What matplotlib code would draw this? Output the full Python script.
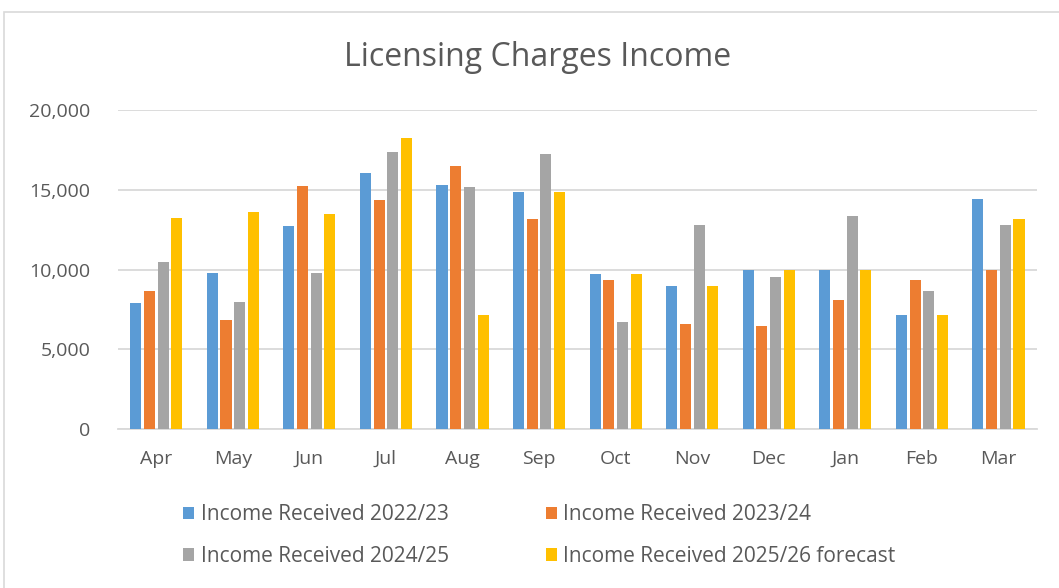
import numpy as np
import matplotlib.pyplot as plt
from matplotlib.patches import Rectangle

# data
months = ['Apr', 'May', 'Jun', 'Jul', 'Aug', 'Sep', 'Oct', 'Nov', 'Dec', 'Jan', 'Feb', 'Mar']
income_2022_23 = [7900, 9770, 12750, 16030, 15290, 14870, 9710, 8970, 9960, 9960, 7160, 14390]
income_2023_24 = [8630, 6830, 15210, 14350, 16470, 13190, 9350, 6600, 6450, 8110, 9330, 10000]
income_2024_25 = [10480, 7940, 9810, 17370, 15170, 17270, 6700, 12820, 9500, 13380, 8680, 12790]
forecast_2025_26 = [13210, 13610, 13510, 18240, 7160, 14870, 9710, 8970, 9960, 9960, 7160, 13190]

series = [
    ('Income Received 2022/23', income_2022_23, '#5B9BD5'),
    ('Income Received 2023/24', income_2023_24, '#ED7D31'),
    ('Income Received 2024/25', income_2024_25, '#A5A5A5'),
    ('Income Received 2025/26 forecast', forecast_2025_26, '#FFC000'),
]

text_col = '#595959'
grid_col = '#D9D9D9'
plt.rcParams['font.family'] = ['Open Sans', 'DejaVu Sans']

fig = plt.figure(figsize=(10.59, 5.88), dpi=100)
ax = fig.add_axes([0.1114, 0.2704, 0.8676, 0.5425])

# light frame round the chart area, like the Excel chart border
fig.patches.append(Rectangle((0.004, -0.01), 1.0, 0.99, transform=fig.transFigure,
                             fill=False, edgecolor=grid_col, linewidth=1.2))

x = np.arange(len(months))
step = 0.179
width = 0.145
bars = []
for i, (label, vals, col) in enumerate(series):
    b = ax.bar(x + (i - 1.5) * step, vals, width, color=col, label=label, zorder=3)
    bars.append(b)

ax.set_xlim(-0.5, len(months) - 0.5)
ax.set_ylim(0, 20000)
ax.set_yticks([0, 5000, 10000, 15000, 20000])
ax.set_yticklabels(['0', '5,000', '10,000', '15,000', '20,000'])
ax.set_xticks(x)
ax.set_xticklabels(months)
ax.tick_params(axis='both', length=0, labelsize=14, colors=text_col)
ax.tick_params(axis='x', pad=15)
ax.tick_params(axis='y', pad=20)
ax.grid(axis='y', color=grid_col, linewidth=1.3, zorder=0)
for s in ['top', 'right', 'left']:
    ax.spines[s].set_visible(False)
ax.spines['bottom'].set_color(grid_col)
ax.spines['bottom'].set_linewidth(1.3)

fig.text(0.508, 0.902, 'Licensing Charges Income', ha='center', va='center',
         fontsize=23, color=text_col)

# legend: two columns, filled column-wise
order = [0, 2, 1, 3]
leg = fig.legend([bars[i] for i in order], [series[i][0] for i in order],
                 loc='center left', bbox_to_anchor=(0.155, 0.089), ncol=2,
                 frameon=False, fontsize=15, handlelength=0.55, handleheight=0.55,
                 handletextpad=0.3, columnspacing=4.65, labelspacing=1.0,
                 labelcolor=text_col)

fig.savefig('out.png', dpi=100)
